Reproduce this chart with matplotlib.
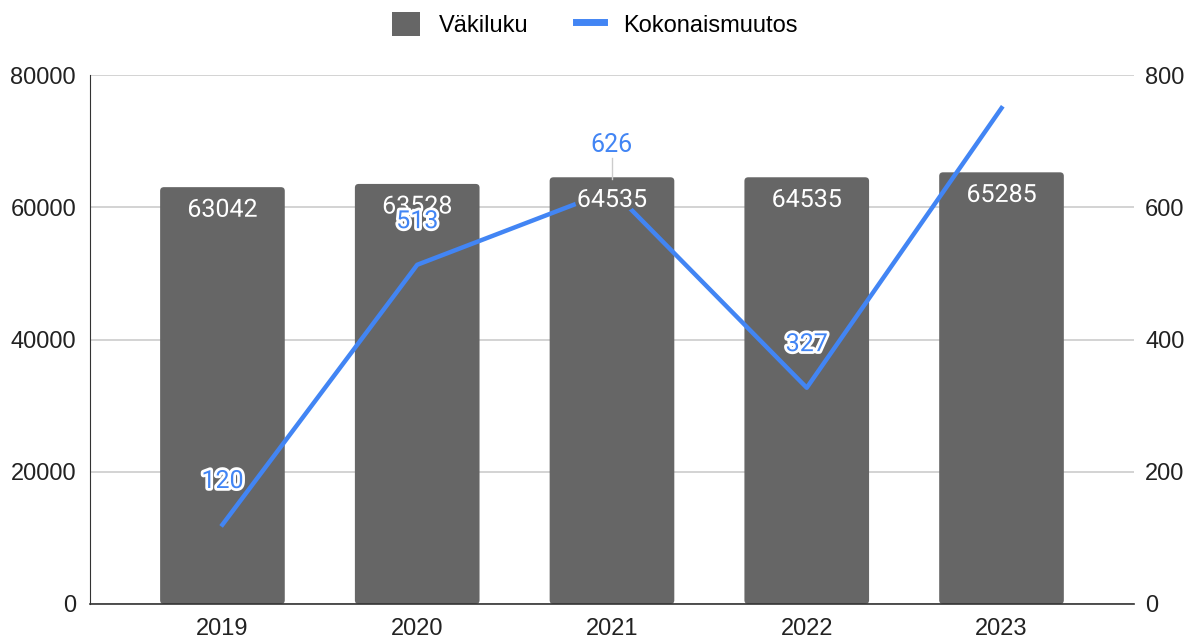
import numpy as np
import matplotlib.pyplot as plt
import matplotlib.patheffects as pe
from matplotlib.patches import FancyBboxPatch

# =============================================================================
# Data
# =============================================================================

years = ["2019", "2020", "2021", "2022", "2023"]
population = [63042, 63528, 64535, 64535, 65285]
total_change = [120, 513, 626, 327, 750]
change_labels = ["120", "513", "626", "327", None]

bar_color = "#666666"
line_color = "#4285F4"

# =============================================================================
# Figure
# =============================================================================

fig = plt.figure(figsize=(11.89, 6.39), dpi=100)
ax = fig.add_axes([0.0757, 0.0548, 0.878, 0.8278])
ax2 = ax.twinx()

x = np.arange(len(years))
bar_width = 0.64

ax.set_xlim(-0.68, len(years) - 1 + 0.68)
ax.set_ylim(0, 80000)
ax2.set_ylim(0, 800)

# rounded bars
for xi, value in zip(x, population):
    patch = FancyBboxPatch(
        (xi - bar_width / 2, 0),
        bar_width,
        value,
        boxstyle="round,pad=0,rounding_size=0.02",
        mutation_aspect=80000 / 5.36 * 1.9,
        facecolor=bar_color,
        edgecolor="none",
        zorder=2,
    )
    ax.add_patch(patch)

# bar labels drawn on the top axes so they sit over the line
bar_stroke = [pe.withStroke(linewidth=5, foreground=bar_color)]
for xi, value in zip(x, population):
    ax2.text(
        xi, value - 1600, str(value),
        transform=ax.transData,
        ha="center", va="top", color="white",
        fontsize=18, family="Roboto", zorder=5,
        path_effects=bar_stroke,
    )

# =============================================================================
# Line on secondary axis
# =============================================================================

ax2.plot(x, total_change, color=line_color, linewidth=3.2, zorder=3)

stroke = [pe.withStroke(linewidth=4, foreground="white")]
for xi, value, label in zip(x, total_change, change_labels):
    if label is None:
        continue
    if label == "626":
        ax2.text(xi, value + 68, label, ha="center", va="center",
                 color=line_color, fontsize=18, family="Roboto")
        ax2.plot([xi, xi], [value + 48, value + 17], color="#cccccc",
                 linewidth=1)
    else:
        ax2.text(xi, value + 66, label, ha="center", va="center",
                 color=line_color, fontsize=18, family="Roboto",
                 path_effects=stroke, zorder=6)

# =============================================================================
# Axes styling
# =============================================================================

ax.set_zorder(ax2.get_zorder() - 1)
ax.patch.set_visible(False)
ax2.patch.set_visible(False)

ax.set_xticks(x)
ax.set_xticklabels(years)
ax.set_yticks(np.arange(0, 80001, 20000))
ax2.set_yticks(np.arange(0, 801, 200))

for a in (ax, ax2):
    for spine in a.spines.values():
        spine.set_visible(False)
    a.tick_params(length=0, labelsize=17, colors="#222222")
    for lbl in a.get_xticklabels() + a.get_yticklabels():
        lbl.set_family("Liberation Sans")

ax.tick_params(axis="y", pad=10)
ax.tick_params(axis="x", pad=10)
ax2.tick_params(axis="y", pad=8)

ax.grid(axis="y", color="#cccccc", linewidth=1.2, zorder=0)
ax.set_axisbelow(True)
ax.spines["bottom"].set_visible(True)
ax.spines["bottom"].set_color("#333333")
ax.spines["bottom"].set_linewidth(1.2)
ax.spines["bottom"].set_zorder(4)
ax.spines["left"].set_visible(True)
ax.spines["left"].set_color("#333333")

# =============================================================================
# Legend
# =============================================================================

handles = [
    plt.Rectangle((0, 0), 1, 1, facecolor=bar_color),
    plt.Line2D([0], [0], color=line_color, linewidth=5),
]
fig.legend(
    handles, ["Väkiluku", "Kokonaismuutos"],
    loc="upper center", bbox_to_anchor=(0.5, 1.015),
    ncol=2, frameon=False,
    prop={"family": "Liberation Sans", "size": 17},
    handlelength=1.2, handleheight=1.2, columnspacing=2.0,
    handletextpad=0.8,
)

plt.savefig("out.png", dpi=100)
